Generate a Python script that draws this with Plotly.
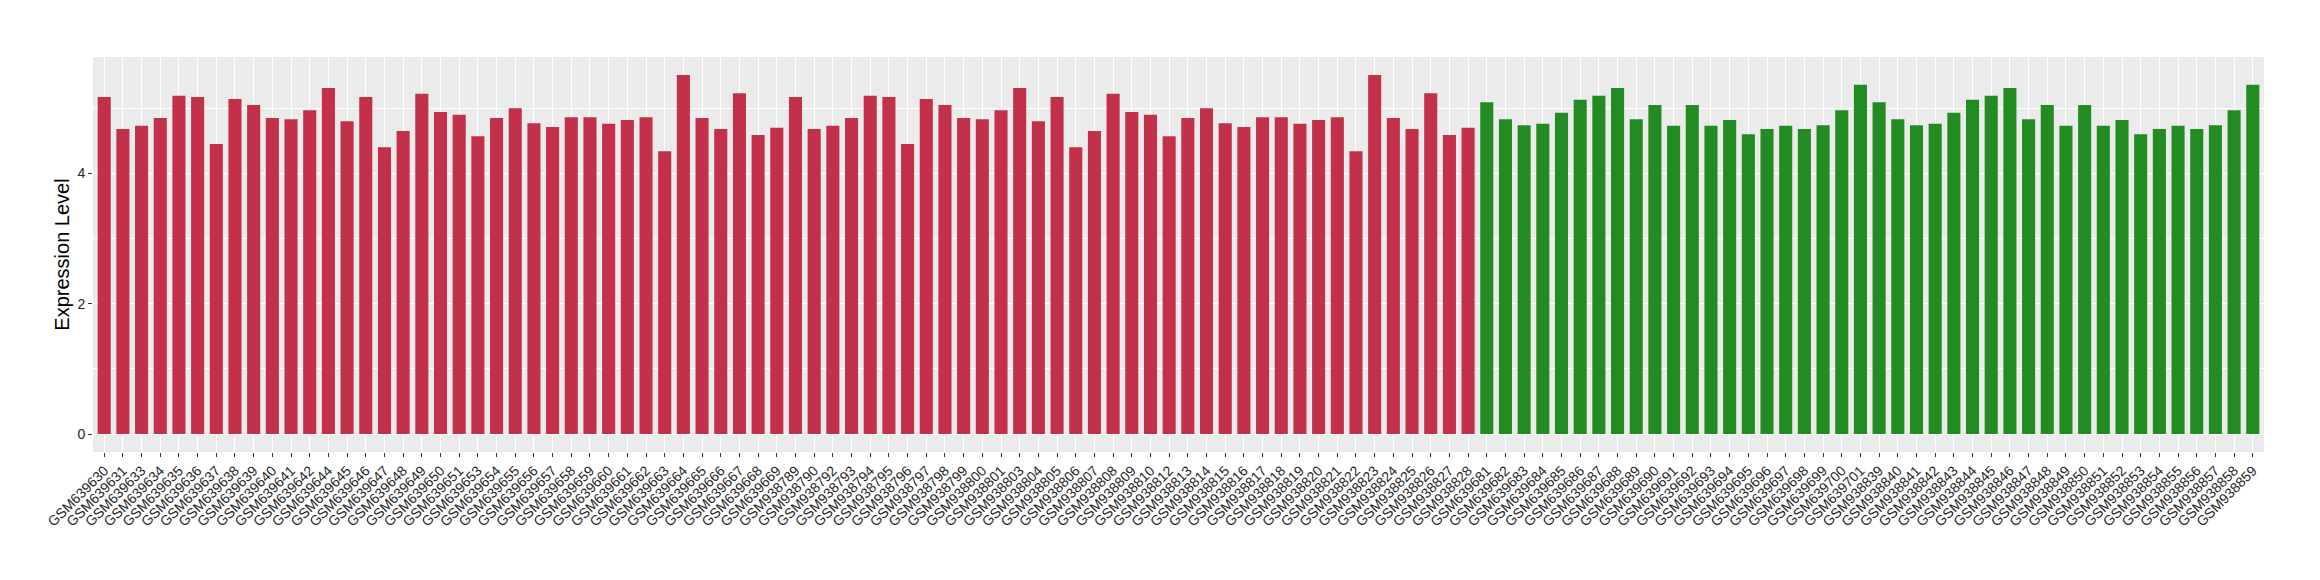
import plotly.graph_objects as go

# ---- data ----
red_samples = [
    "GSM639630", "GSM639631", "GSM639633", "GSM639634", "GSM639635", "GSM639636", "GSM639637",
    "GSM639638", "GSM639639", "GSM639640", "GSM639641", "GSM639642", "GSM639644", "GSM639645",
    "GSM639646", "GSM639647", "GSM639648", "GSM639649", "GSM639650", "GSM639651", "GSM639653",
    "GSM639654", "GSM639655", "GSM639656", "GSM639657", "GSM639658", "GSM639659", "GSM639660",
    "GSM639661", "GSM639662", "GSM639663", "GSM639664", "GSM639665", "GSM639666", "GSM639667",
    "GSM639668", "GSM639669",
    "GSM938789", "GSM938790", "GSM938792", "GSM938793", "GSM938794", "GSM938795", "GSM938796",
    "GSM938797", "GSM938798", "GSM938799", "GSM938800", "GSM938801", "GSM938803", "GSM938804",
    "GSM938805", "GSM938806", "GSM938807", "GSM938808", "GSM938809", "GSM938810", "GSM938812",
    "GSM938813", "GSM938814", "GSM938815", "GSM938816", "GSM938817", "GSM938818", "GSM938819",
    "GSM938820", "GSM938821", "GSM938822", "GSM938823", "GSM938824", "GSM938825", "GSM938826",
    "GSM938827", "GSM938828",
]
red_values = [
    5.17, 4.68, 4.73, 4.85, 5.19, 5.17, 4.45, 5.14, 5.05, 4.85, 4.83, 4.97, 5.31, 4.80,
    5.17, 4.40, 4.65, 5.22, 4.94, 4.90, 4.57, 4.85, 5.00, 4.77, 4.71, 4.86, 4.86, 4.76,
    4.82, 4.86, 4.34, 5.51, 4.85, 4.68, 5.23, 4.59, 4.70,
    5.17, 4.68, 4.73, 4.85, 5.19, 5.17, 4.45, 5.14, 5.05, 4.85, 4.83, 4.97, 5.31, 4.80,
    5.17, 4.40, 4.65, 5.22, 4.94, 4.90, 4.57, 4.85, 5.00, 4.77, 4.71, 4.86, 4.86, 4.76,
    4.82, 4.86, 4.34, 5.51, 4.85, 4.68, 5.23, 4.59, 4.70,
]

green_samples = [
    "GSM639681", "GSM639682", "GSM639683", "GSM639684", "GSM639685", "GSM639686", "GSM639687",
    "GSM639688", "GSM639689", "GSM639690", "GSM639691", "GSM639692", "GSM639693", "GSM639694",
    "GSM639695", "GSM639696", "GSM639697", "GSM639698", "GSM639699", "GSM639700", "GSM639701",
    "GSM938839", "GSM938840", "GSM938841", "GSM938842", "GSM938843", "GSM938844", "GSM938845",
    "GSM938846", "GSM938847", "GSM938848", "GSM938849", "GSM938850", "GSM938851", "GSM938852",
    "GSM938853", "GSM938854", "GSM938855", "GSM938856", "GSM938857", "GSM938858", "GSM938859",
]
green_values = [
    5.09, 4.83, 4.74, 4.76, 4.93, 5.13, 5.19, 5.31, 4.83, 5.05, 4.73, 5.05, 4.73, 4.82,
    4.60, 4.68, 4.73, 4.68, 4.74, 4.97, 5.36,
    5.09, 4.83, 4.74, 4.76, 4.93, 5.13, 5.19, 5.31, 4.83, 5.05, 4.73, 5.05, 4.73, 4.82,
    4.60, 4.68, 4.73, 4.68, 4.74, 4.97, 5.36,
]

y_title = "Expression Level"
y_ticks = [0, 2, 4]

# ---- figure ----
RED = "#C3304A"
GREEN = "#228B22"
FONT = "Liberation Sans, Arial, Helvetica, sans-serif"
TICK_COLOR = "#262626"

all_samples = red_samples + green_samples
n = len(all_samples)
ymax = max(red_values + green_values)

fig = go.Figure()
fig.add_trace(go.Bar(x=red_samples, y=red_values, marker=dict(color=RED, line=dict(width=0)),
                     width=0.7, showlegend=False))
fig.add_trace(go.Bar(x=green_samples, y=green_values, marker=dict(color=GREEN, line=dict(width=0)),
                     width=0.7, showlegend=False))

# page body has a default 8px margin, so the figure is sized to fit inside the window
fig.update_layout(
    width=2304, height=564,
    barmode="overlay",
    paper_bgcolor="white",
    plot_bgcolor="#EBEBEB",
    margin=dict(l=85, r=48, t=49, b=120, autoexpand=False),
    font=dict(family=FONT, color=TICK_COLOR),
)
fig.update_xaxes(
    type="category",
    categoryorder="array", categoryarray=all_samples,
    range=[-0.6, n - 1 + 0.6],
    tickangle=-45,
    tickfont=dict(size=14, color=TICK_COLOR, family=FONT),
    ticks="outside", ticklen=4, tickwidth=1, tickcolor="#333333",
    showgrid=True, gridcolor="white", gridwidth=1.4,
    zeroline=False, showline=False,
    automargin=False,
)
fig.update_yaxes(
    range=[-0.05 * ymax, ymax * 1.05],
    tickmode="array", tickvals=y_ticks, ticktext=[str(v) for v in y_ticks],
    tickfont=dict(size=14, color=TICK_COLOR, family=FONT),
    ticks="outside", ticklen=4, tickwidth=1, tickcolor="#333333",
    showgrid=True, gridcolor="white", gridwidth=1.4,
    minor=dict(dtick=1, tick0=0, showgrid=True, gridcolor="white", gridwidth=0.7, ticks=""),
    zeroline=False, showline=False,
    title=dict(text=y_title, font=dict(size=20, color="black", family=FONT), standoff=2),
    automargin=False,
)

fig.write_html("out.html")
